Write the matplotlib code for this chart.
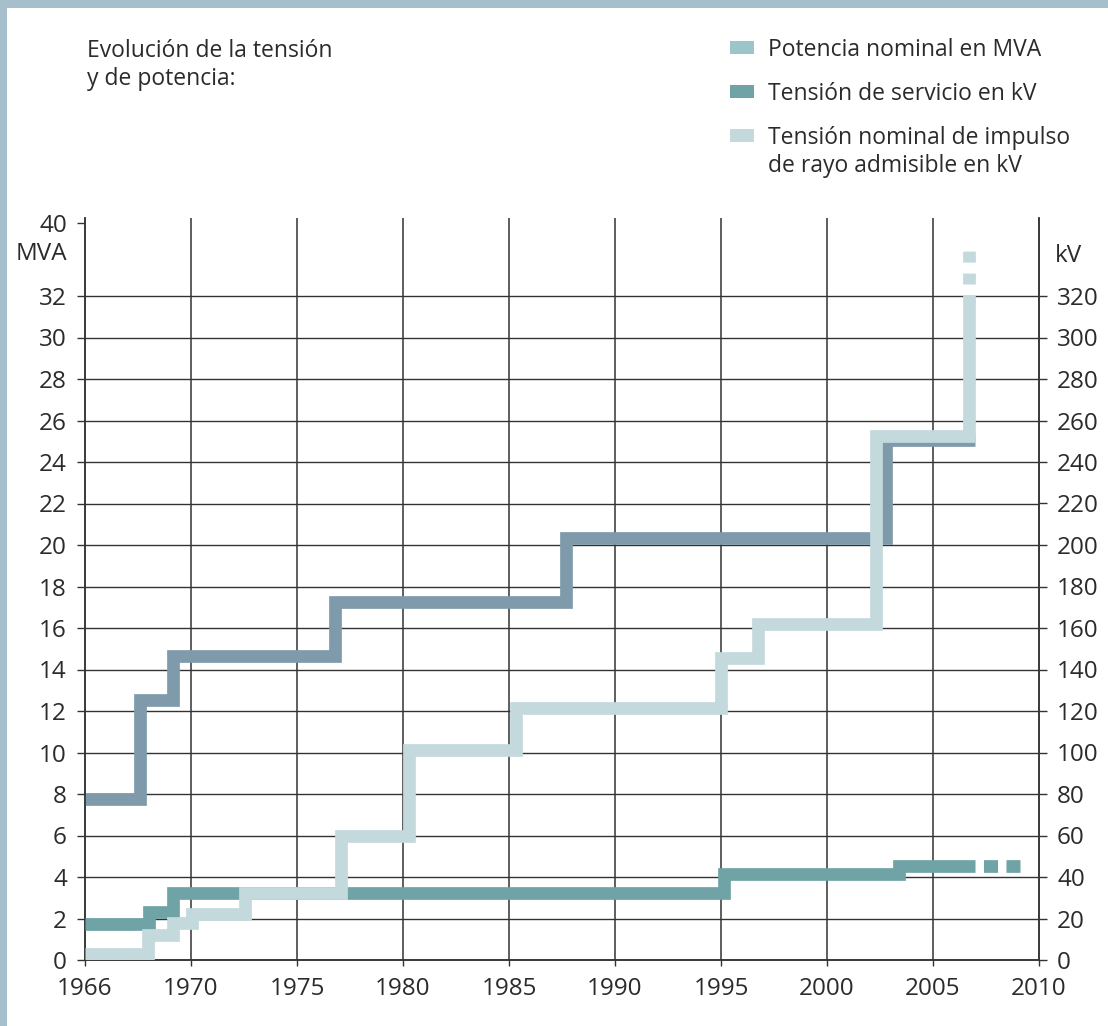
import numpy as np
import matplotlib
matplotlib.use("Agg")
import matplotlib.pyplot as plt
from matplotlib.patches import Rectangle

plt.rcParams.update({
    "font.family": ["Open Sans", "DejaVu Sans"],
    "lines.scale_dashes": False,
    "text.color": "#2b2b2b",
    "xtick.color": "#2b2b2b",
    "ytick.color": "#2b2b2b",
})

# ---- data (x in axis years: first interval is labelled 1966) ----
mva_x = [1965, 1967.58, 1969.15, 1976.78, 1987.69, 2002.8, 2007.0]
mva_y = [7.75, 12.55, 14.66, 17.23, 20.36, 25.08, 25.08]

serv_x = [1965, 1968.03, 1969.17, 1995.13, 2003.4, 2007.0]
serv_y = [17.3, 22.9, 32.5, 41.4, 45.5, 45.5]   # kV
serv_ext = 2009.1                                 # dashed continuation (year)

imp_x = [1965, 1967.95, 1969.17, 1970.03, 1972.56, 1977.09, 1980.29,
         1985.33, 1995.02, 1996.75, 2002.3, 2006.71]
imp_y = [2.9, 12.2, 17.6, 22.1, 32.5, 60.0, 101.2, 121.3, 145.7, 161.8,
         252.5, 320.5]                            # kV
imp_ext = 341.7                                   # dashed continuation (kV)

year_ticks = [1965, 1970, 1975, 1980, 1985, 1990, 1995, 2000, 2005, 2010]
year_labels = ["1966", "1970", "1975", "1980", "1985", "1990", "1995",
               "2000", "2005", "2010"]
mva_ticks = list(range(0, 33, 2))
kv_ticks = list(range(0, 321, 20))

legend_labels = ["Potencia nominal en MVA", "Tensión de servicio en kV",
                 "Tensión nominal de impulso\nde rayo admisible en kV"]

# colours
MVA_LINE = "#7f9aaa"
SERV = "#6fa3a6"
IMP = "#c4d9dc"
MVA_LEG = "#9cc5cb"
BORDER = "#a7bfca"
GRID = "#333333"

TICK_FS = 17.5
TEXT_FS = 16.5

W, H = 1108, 1026
fig = plt.figure(figsize=(W / 100, H / 100), dpi=100)


def fx(x):
    return x / W


def fy(y):
    return 1 - y / H


# frame band (top and left)
fig.patches.append(Rectangle((0, fy(8)), 1, 8 / H, transform=fig.transFigure,
                             facecolor=BORDER, edgecolor="none"))
fig.patches.append(Rectangle((0, 0), 7 / W, 1, transform=fig.transFigure,
                             facecolor=BORDER, edgecolor="none"))

x0, x1 = 85, 1039
ybot, ytop = 960, 218
ax = fig.add_axes([fx(x0), fy(ybot), (x1 - x0) / W, (ybot - ytop) / H])
YMAX = (ybot - ytop) / 20.75
ax.set_xlim(1965, 2010)
ax.set_ylim(0, YMAX)
ax2 = ax.twinx()
ax2.set_ylim(0, YMAX * 10)

LW = 9.15
style = dict(solid_capstyle="butt", solid_joinstyle="miter",
             dash_capstyle="butt", lw=LW)

ax.step(mva_x, mva_y, where="post", color=MVA_LINE, zorder=3, **style)
ax2.step(serv_x, serv_y, where="post", color=SERV, zorder=3, **style)
ax2.plot([serv_x[-1], serv_ext], [serv_y[-1], serv_y[-1]], color=SERV,
         ls=(10.1, (10.1, 6.1)), zorder=3, **style)
ax2.step(imp_x, imp_y, where="post", color=IMP, zorder=4, **style)
ax2.plot([imp_x[-1], imp_x[-1]], [imp_y[-1], imp_ext], color=IMP,
         ls=(7.9, (7.9, 7.9)), zorder=4, **style)

# grid
for v in mva_ticks[1:]:
    ax.axhline(v, color=GRID, lw=1.0, zorder=1)
for yr in year_ticks[1:-1]:
    ax.axvline(yr, color=GRID, lw=1.1, zorder=1)

for a in (ax, ax2):
    a.spines["top"].set_visible(False)
    for s in ("left", "right", "bottom"):
        a.spines[s].set_color(GRID)
        a.spines[s].set_linewidth(1.1)

ax.set_xticks(year_ticks, year_labels)
ax.set_yticks(mva_ticks, [str(v) for v in mva_ticks])
ax.set_yticks([35.5], ["40"], minor=True)
ax2.set_yticks(kv_ticks, [str(v) for v in kv_ticks])

ax.tick_params(axis="x", length=4, width=1.0, pad=8, labelsize=TICK_FS,
               colors=GRID, labelcolor="#2b2b2b")
ax.tick_params(axis="y", which="both", length=6, width=1.0, pad=7,
               labelsize=TICK_FS, colors=GRID, labelcolor="#2b2b2b")
ax2.tick_params(axis="y", length=6, width=1.0, pad=7, labelsize=TICK_FS,
                colors=GRID, labelcolor="#2b2b2b")

fig.text(fx(67), fy(254), "MVA", ha="right", va="center", fontsize=TICK_FS)
fig.text(fx(1055), fy(256), "kV", ha="left", va="center", fontsize=TICK_FS)

# title
fig.text(fx(87), fy(57), "Evolución de la tensión", ha="left",
         va="baseline", fontsize=TEXT_FS)
fig.text(fx(87), fy(85), "y de potencia:", ha="left", va="baseline",
         fontsize=TEXT_FS)

# legend
leg_colors = [MVA_LEG, SERV, IMP]
leg_centers = [47.5, 91.5, 135.5]
for lab, col, yc in zip(legend_labels, leg_colors, leg_centers):
    fig.patches.append(Rectangle((fx(730), fy(yc + 6.5)), 24 / W, 13 / H,
                                 transform=fig.transFigure, facecolor=col,
                                 edgecolor="none"))
    lines = lab.split("\n")
    for i, ln in enumerate(lines):
        fig.text(fx(768), fy(yc + 8.5 + i * 28.5), ln, ha="left",
                 va="baseline", fontsize=TEXT_FS)

fig.savefig("out.png", dpi=100, facecolor="white")
